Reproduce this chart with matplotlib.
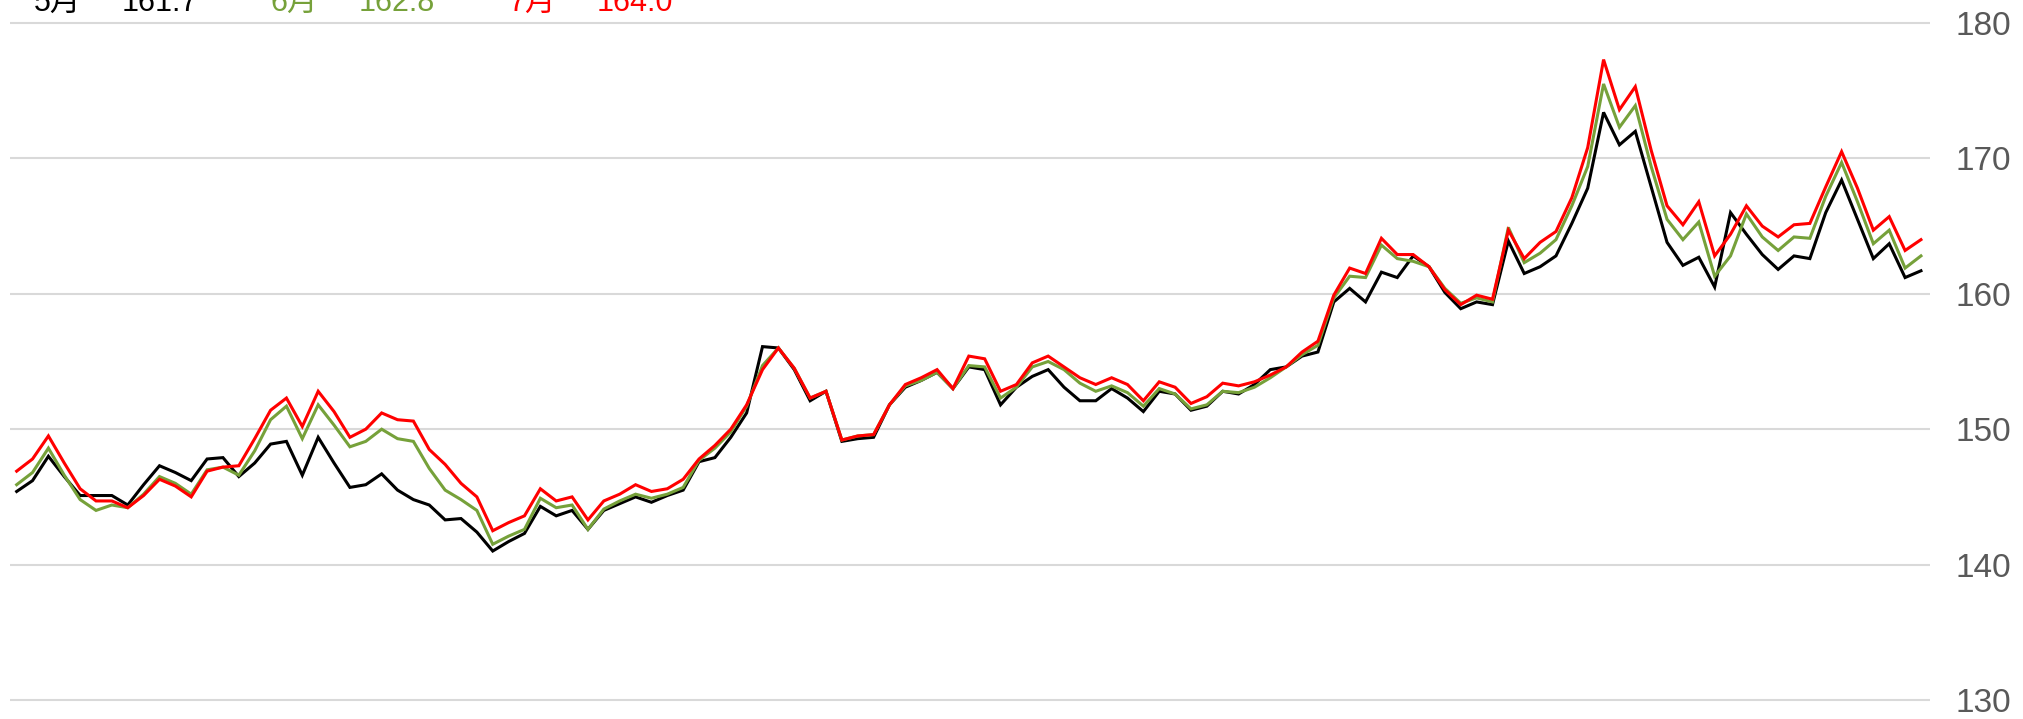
import matplotlib.pyplot as plt
import numpy as np

# Three series (5月 / 6月 / 7月), 121 points each
may = [145.4, 146.2, 148.0, 146.5, 145.1, 145.1, 145.1, 144.4, 145.9, 147.3,
       146.8, 146.2, 147.8, 147.9, 146.5, 147.5, 148.9, 149.1, 146.6, 149.4,
       147.5, 145.7, 145.9, 146.7, 145.5, 144.8, 144.4, 143.3, 143.4, 142.4,
       141.0, 141.7, 142.3, 144.3, 143.6, 144.0, 142.6, 144.0, 144.5, 145.0,
       144.6, 145.1, 145.5, 147.6, 147.9, 149.4, 151.2, 156.1, 156.0, 154.4,
       152.1, 152.8, 149.1, 149.3, 149.4, 151.8, 153.1, 153.6, 154.2, 153.0,
       154.6, 154.4, 151.8, 153.1, 153.9, 154.4, 153.1, 152.1, 152.1, 153.0,
       152.3, 151.3, 152.8, 152.6, 151.4, 151.7, 152.8, 152.6, 153.3, 154.4,
       154.6, 155.4, 155.7, 159.4, 160.4, 159.4, 161.6, 161.2, 162.8, 162.0,
       160.1, 158.9, 159.4, 159.2, 163.9, 161.5, 162.0, 162.8, 165.2, 167.8,
       173.4, 171.0, 172.0, 167.9, 163.8, 162.1, 162.7, 160.5, 166.0, 164.4,
       162.9, 161.8, 162.8, 162.6, 166.0, 168.4, 165.5, 162.6, 163.7, 161.2,
       161.7]
june = [145.9, 146.8, 148.6, 146.6, 144.8, 144.0, 144.4, 144.2, 145.2, 146.5,
        146.0, 145.2, 147.0, 147.2, 146.6, 148.4, 150.7, 151.7, 149.3, 151.8,
        150.3, 148.7, 149.1, 150.0, 149.3, 149.1, 147.1, 145.5, 144.8, 144.0,
        141.5, 142.1, 142.6, 144.9, 144.2, 144.4, 142.6, 144.1, 144.7, 145.2,
        144.9, 145.2, 145.7, 147.7, 148.6, 149.8, 151.7, 154.7, 156.0, 154.5,
        152.3, 152.8, 149.2, 149.5, 149.6, 151.8, 153.2, 153.6, 154.2, 153.0,
        154.7, 154.6, 152.3, 153.1, 154.6, 155.0, 154.4, 153.4, 152.8, 153.2,
        152.7, 151.7, 153.0, 152.6, 151.5, 151.8, 152.8, 152.7, 153.1, 153.8,
        154.6, 155.5, 156.2, 159.7, 161.3, 161.2, 163.6, 162.6, 162.4, 162.0,
        160.4, 159.3, 159.7, 159.4, 164.9, 162.3, 163.0, 164.0, 166.5, 169.4,
        175.5, 172.3, 173.9, 169.4, 165.5, 164.0, 165.3, 161.3, 162.8, 165.9,
        164.2, 163.2, 164.2, 164.1, 167.2, 169.7, 166.8, 163.7, 164.7, 161.9,
        162.8]
july = [146.9, 147.8, 149.5, 147.5, 145.6, 144.7, 144.7, 144.2, 145.1, 146.3,
        145.8, 145.0, 146.9, 147.2, 147.3, 149.3, 151.4, 152.3, 150.2, 152.8,
        151.3, 149.4, 150.0, 151.2, 150.7, 150.6, 148.5, 147.4, 146.0, 145.0,
        142.5, 143.1, 143.6, 145.6, 144.7, 145.0, 143.3, 144.7, 145.2, 145.9,
        145.4, 145.6, 146.3, 147.8, 148.8, 150.0, 151.8, 154.4, 156.0, 154.5,
        152.3, 152.8, 149.2, 149.5, 149.6, 151.8, 153.3, 153.8, 154.4, 153.0,
        155.4, 155.2, 152.8, 153.3, 154.9, 155.4, 154.6, 153.8, 153.3, 153.8,
        153.3, 152.1, 153.5, 153.1, 151.9, 152.4, 153.4, 153.2, 153.5, 154.0,
        154.6, 155.7, 156.5, 159.9, 161.9, 161.5, 164.1, 162.9, 162.9, 162.0,
        160.3, 159.2, 159.9, 159.6, 164.7, 162.6, 163.8, 164.6, 167.1, 170.8,
        177.3, 173.6, 175.3, 170.6, 166.5, 165.1, 166.8, 162.8, 164.4, 166.5,
        165.0, 164.2, 165.1, 165.2, 167.9, 170.5, 167.8, 164.7, 165.7, 163.2,
        164.0]

labels = ['5月', '6月', '7月']
colors = ['#000000', '#76a13a', '#ff0000']
yticks = [130, 140, 150, 160, 170, 180]

W, H = 2023, 719
fig = plt.figure(figsize=(W / 100, H / 100), dpi=100)
ax = fig.add_axes([10 / W, (H - 713.5) / H, 1920 / W, 704 / H])

x = np.arange(len(may))
for series, c in zip([may, june, july], colors):
    ax.plot(x, series, color=c, lw=2.2, solid_joinstyle='miter')

ax.set_xlim(-0.42, 120.57)
ax.set_ylim(129, 181)
ax.set_yticks(yticks)
ax.set_xticks([])
ax.yaxis.tick_right()
ax.tick_params(axis='y', length=0, pad=18, labelsize=24, labelcolor='#595959')
for lbl in ax.get_yticklabels():
    lbl.set_family(['Liberation Sans', 'DejaVu Sans'])
ax.grid(axis='y', color='#d9d9d9', lw=1.5)
ax.set_axisbelow(True)
for s in ax.spines.values():
    s.set_visible(False)

# Header legend, partly cut at the top edge
fam = ['Liberation Sans', 'Noto Sans CJK JP']
base_y = 1 - 10.7 / H
lab_x = [34, 271, 508]
val_x = [122, 359, 597]
for lab, series, c, lx, vx in zip(labels, [may, june, july], colors, lab_x, val_x):
    fig.text(lx / W, base_y, lab, color=c, fontsize=22, family=fam, va='baseline')
    fig.text(vx / W, base_y, f'{series[-1]:.1f}', color=c, fontsize=22, family=fam, va='baseline')

fig.savefig('out.png', dpi=100)
